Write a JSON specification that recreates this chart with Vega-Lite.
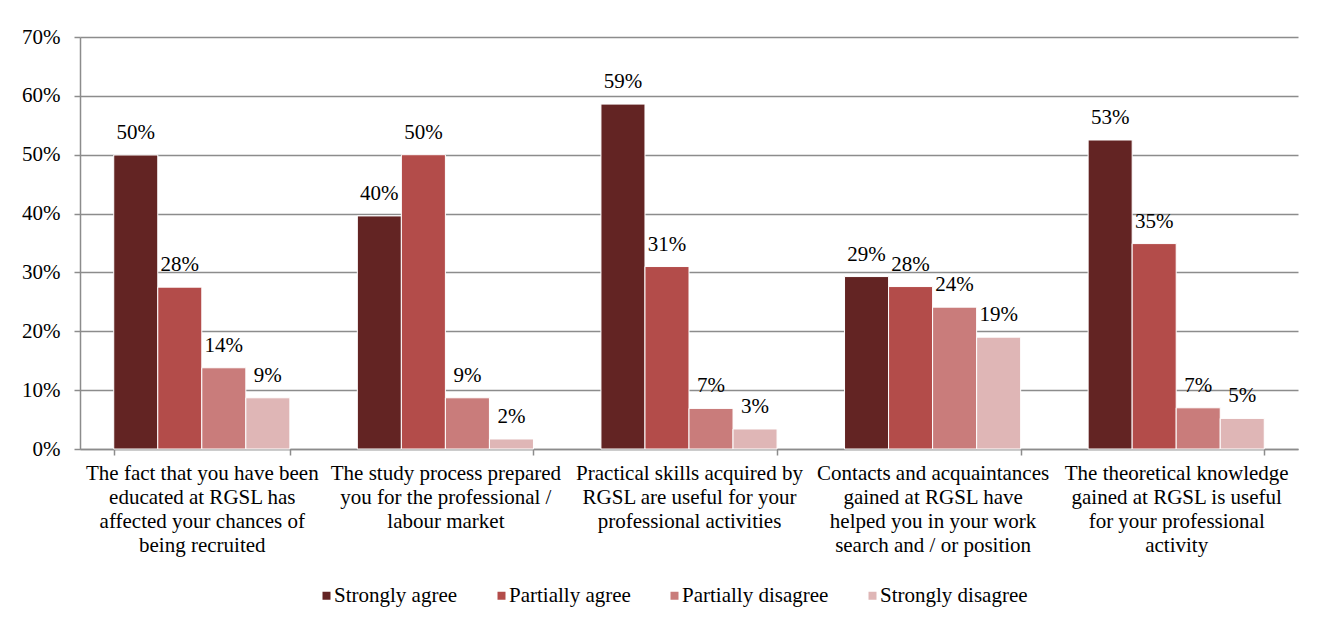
{
  "$schema": "https://vega.github.io/schema/vega-lite/v6.json",
  "width": 1218,
  "height": 412,
  "autosize": {"type": "none"},
  "padding": {"left": 80, "top": 37, "right": 32, "bottom": 177},
  "background": "white",
  "config": {
    "font": "Liberation Serif",
    "view": {"stroke": null},
    "axis": {"labelFont": "Liberation Serif", "labelColor": "black", "labelFontSize": 21}
  },
  "data": {
    "values": [
      {"q": "The fact that you have been|educated at RGSL has|affected your chances of|being recruited", "r": "Strongly agree", "v": 0.4995},
      {"q": "The fact that you have been|educated at RGSL has|affected your chances of|being recruited", "r": "Partially agree", "v": 0.275},
      {"q": "The fact that you have been|educated at RGSL has|affected your chances of|being recruited", "r": "Partially disagree", "v": 0.138},
      {"q": "The fact that you have been|educated at RGSL has|affected your chances of|being recruited", "r": "Strongly disagree", "v": 0.087},
      {"q": "The study process prepared|you for the professional /|labour market", "r": "Strongly agree", "v": 0.396},
      {"q": "The study process prepared|you for the professional /|labour market", "r": "Partially agree", "v": 0.5},
      {"q": "The study process prepared|you for the professional /|labour market", "r": "Partially disagree", "v": 0.087},
      {"q": "The study process prepared|you for the professional /|labour market", "r": "Strongly disagree", "v": 0.017},
      {"q": "Practical skills acquired by|RGSL are useful for your|professional activities", "r": "Strongly agree", "v": 0.586},
      {"q": "Practical skills acquired by|RGSL are useful for your|professional activities", "r": "Partially agree", "v": 0.31},
      {"q": "Practical skills acquired by|RGSL are useful for your|professional activities", "r": "Partially disagree", "v": 0.069},
      {"q": "Practical skills acquired by|RGSL are useful for your|professional activities", "r": "Strongly disagree", "v": 0.034},
      {"q": "Contacts and acquaintances|gained at RGSL have|helped you in your work|search and / or position", "r": "Strongly agree", "v": 0.293},
      {"q": "Contacts and acquaintances|gained at RGSL have|helped you in your work|search and / or position", "r": "Partially agree", "v": 0.276},
      {"q": "Contacts and acquaintances|gained at RGSL have|helped you in your work|search and / or position", "r": "Partially disagree", "v": 0.241},
      {"q": "Contacts and acquaintances|gained at RGSL have|helped you in your work|search and / or position", "r": "Strongly disagree", "v": 0.19},
      {"q": "The theoretical knowledge|gained at RGSL is useful|for your professional|activity", "r": "Strongly agree", "v": 0.525},
      {"q": "The theoretical knowledge|gained at RGSL is useful|for your professional|activity", "r": "Partially agree", "v": 0.349},
      {"q": "The theoretical knowledge|gained at RGSL is useful|for your professional|activity", "r": "Partially disagree", "v": 0.07},
      {"q": "The theoretical knowledge|gained at RGSL is useful|for your professional|activity", "r": "Strongly disagree", "v": 0.052}
    ]
  },
  "encoding": {
    "x": {
      "field": "q", "type": "nominal", "sort": null,
      "scale": {"paddingInner": 0.277, "paddingOuter": 0.1385},
      "axis": {
        "title": null, "labelAngle": 0, "labelExpr": "split(datum.label, '|')",
        "labelLineHeight": 24, "labelPadding": 7, "labelBaseline": "top",
        "tickBand": "extent", "tickSize": 6, "tickColor": "#8c8c8c", "tickWidth": 1.5,
        "domainColor": "#8c8c8c", "domainWidth": 1.5, "labelLimit": 0
      }
    },
    "xOffset": {
      "field": "r", "type": "nominal",
      "sort": ["Strongly agree", "Partially agree", "Partially disagree", "Strongly disagree"],
      "scale": {"paddingInner": 0, "paddingOuter": 0}
    },
    "y": {
      "field": "v", "type": "quantitative",
      "scale": {"domain": [0, 0.7], "nice": false},
      "axis": {
        "title": null, "format": ".0%", "values": [0, 0.1, 0.2, 0.3, 0.4, 0.5, 0.6, 0.7],
        "grid": true, "gridColor": "#8c8c8c", "gridWidth": 1.5,
        "tickColor": "#8c8c8c", "tickWidth": 1.5, "tickSize": 6, "labelPadding": 14,
        "domainColor": "#8c8c8c", "domainWidth": 1.5
      }
    }
  },
  "layer": [
    {
      "mark": {"type": "bar", "stroke": "white", "strokeWidth": 1},
      "encoding": {
        "color": {
          "field": "r", "type": "nominal",
          "sort": ["Strongly agree", "Partially agree", "Partially disagree", "Strongly disagree"],
          "scale": {
            "domain": ["Strongly agree", "Partially agree", "Partially disagree", "Strongly disagree"],
            "range": ["#632423", "#b34c4a", "#c97c7b", "#dfb6b6"]
          },
          "legend": {
            "title": null, "orient": "none", "direction": "horizontal",
            "legendX": 236, "legendY": 548,
            "symbolType": "square", "symbolSize": 64, "symbolStrokeWidth": 0,
            "labelFontSize": 21, "labelFont": "Liberation Serif", "labelColor": "black",
            "labelOffset": -3, "columnPadding": 33, "labelLimit": 0
          }
        }
      }
    },
    {
      "mark": {"type": "text", "dy": -16, "baseline": "alphabetic", "fontSize": 21, "font": "Liberation Serif", "color": "black"},
      "encoding": {
        "text": {"field": "v", "type": "quantitative", "format": ".0%"}
      }
    }
  ]
}
